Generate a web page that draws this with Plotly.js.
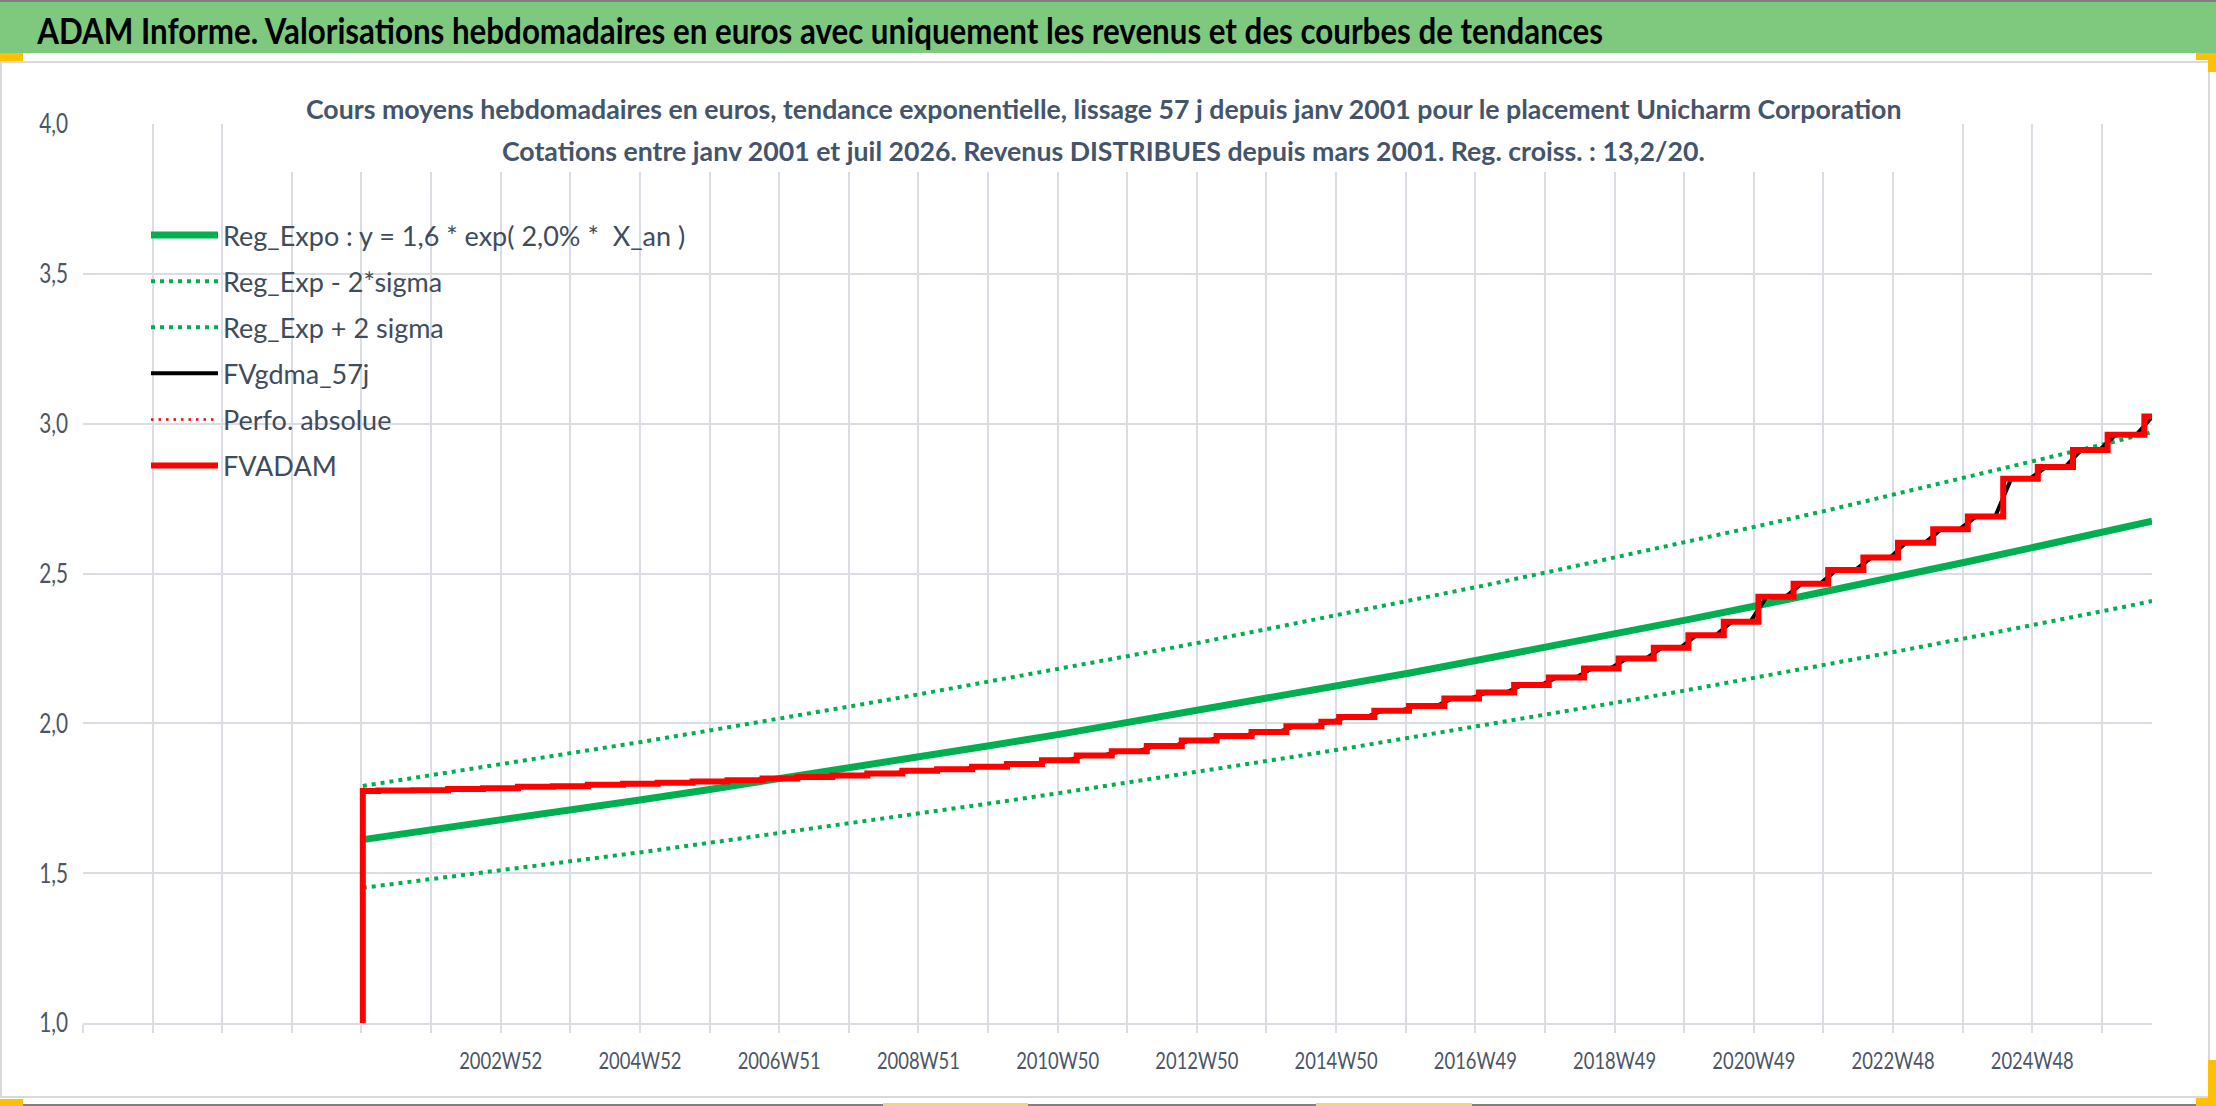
<!DOCTYPE html>
<html>
<head>
<meta charset="utf-8">
<script src="https://cdn.plot.ly/plotly-3.0.1.min.js"></script>
<style>
  body { margin: 0; background: #ffffff; overflow: hidden; }
  #chart { width: 2216px; height: 1106px; }
</style>
</head>
<body>
<div id="chart"></div>
<script>
// Tendance exponentielle et bandes +/- 2 sigma
const trendDates = ['2001-01-05', '2002-01-01', '2003-01-01', '2004-01-01', '2005-01-01', '2006-01-01',
    '2007-01-01', '2008-01-01', '2009-01-01', '2010-01-01', '2011-01-01', '2012-01-01', '2013-01-01',
    '2014-01-01', '2015-01-01', '2016-01-01', '2017-01-01', '2018-01-01', '2019-01-01', '2020-01-01',
    '2021-01-01', '2022-01-01', '2023-01-01', '2024-01-01', '2025-01-01', '2026-01-01', '2026-08-17'];
const regExpo = [1.612, 1.644, 1.677, 1.711, 1.745, 1.780, 1.815, 1.851, 1.888, 1.926, 1.964, 2.004, 2.044,
    2.084, 2.126, 2.168, 2.212, 2.256, 2.301, 2.347, 2.394, 2.441, 2.490, 2.540, 2.591, 2.642, 2.675];
const regMinus = [1.451, 1.480, 1.509, 1.539, 1.570, 1.602, 1.634, 1.666, 1.699, 1.733, 1.768, 1.803, 1.839,
    1.876, 1.913, 1.952, 1.991, 2.030, 2.071, 2.112, 2.154, 2.197, 2.241, 2.286, 2.331, 2.378, 2.408];
const regPlus = [1.791, 1.827, 1.863, 1.900, 1.938, 1.977, 2.016, 2.057, 2.098, 2.140, 2.182, 2.226, 2.270,
    2.316, 2.362, 2.409, 2.457, 2.506, 2.556, 2.607, 2.659, 2.712, 2.767, 2.822, 2.878, 2.935, 2.972];

// FVADAM : valeur apres chaque versement de revenus (escalier)
const fvDates = ['2001-01-05', '2001-01-05', '2001-03-27', '2001-09-26', '2002-03-27', '2002-09-26',
    '2003-03-27', '2003-09-26', '2004-03-27', '2004-09-26', '2005-03-27', '2005-09-26', '2006-03-27',
    '2006-09-26', '2007-03-27', '2007-09-26', '2008-03-27', '2008-09-26', '2009-03-27', '2009-09-26',
    '2010-03-27', '2010-09-26', '2011-03-27', '2011-09-26', '2012-03-27', '2012-09-26', '2013-03-27',
    '2013-09-26', '2014-03-27', '2014-09-26', '2014-12-28', '2015-06-30', '2015-12-28', '2016-06-30',
    '2016-12-28', '2017-06-30', '2017-12-28', '2018-06-30', '2018-12-28', '2019-06-30', '2019-12-28',
    '2020-06-30', '2020-12-28', '2021-06-30', '2021-12-28', '2022-06-30', '2022-12-28', '2023-06-30',
    '2023-12-28', '2024-06-30', '2024-12-28', '2025-06-30', '2025-12-28', '2026-07-08', '2026-08-17'];
const fvadam = [1.000, 1.774, 1.776, 1.777, 1.781, 1.783, 1.788, 1.790, 1.795, 1.798, 1.802, 1.806, 1.810,
    1.816, 1.821, 1.826, 1.833, 1.842, 1.847, 1.855, 1.864, 1.877, 1.893, 1.907, 1.924, 1.943, 1.958,
    1.971, 1.990, 2.005, 2.021, 2.042, 2.058, 2.083, 2.103, 2.128, 2.153, 2.183, 2.216, 2.252, 2.294,
    2.339, 2.422, 2.466, 2.512, 2.553, 2.603, 2.648, 2.690, 2.816, 2.855, 2.912, 2.963, 3.024, 3.024];

// Etiquettes de l'axe des x (une graduation toutes les 52 semaines)
const xTickLabels = ['', '', '', '', '', '', '2002W52', '', '2004W52', '', '2006W51', '', '2008W51', '',
    '2010W50', '', '2012W50', '', '2014W50', '', '2016W49', '', '2018W49', '', '2020W49', '', '2022W48',
    '', '2024W48', ''];
const firstTick = '1997-01-03';
const lastDay = '2026-08-17';

const W = 2216, H = 1106;
const M = { l: 83, r: 64, t: 124, b: 83 };
const pw = W - M.l - M.r, ph = H - M.t - M.b;
const px = x => (x - M.l) / pw;
const py = y => (H - M.b - y) / ph;

function addDays(s, n) {
    const d = new Date(s + 'T00:00:00Z');
    d.setUTCDate(d.getUTCDate() + n);
    return d.toISOString().slice(0, 10);
}

const tickVals = xTickLabels.map((t, k) => addDays(firstTick, 364 * k));

// lissage : rampe autour de chaque marche
const gdmaX = [fvDates[1]], gdmaY = [fvadam[1]];
for (let i = 2; i < fvDates.length - 1; i++) {
    gdmaX.push(addDays(fvDates[i], -42)); gdmaY.push(fvadam[i - 1]);
    gdmaX.push(addDays(fvDates[i], 42)); gdmaY.push(fvadam[i]);
}
gdmaX.push(lastDay); gdmaY.push(fvadam[fvadam.length - 1]);

const FONT = 'Lato, "Open Sans", sans-serif';
const GREEN = '#00b050', GRID = '#dadee4';

const traces = [
    { x: trendDates, y: regExpo, name: 'Reg_Expo : y = 1,6 * exp( 2,0% *\u00a0\u00a0X_an )', legendgroup: 'a',
      mode: 'lines', line: { color: GREEN, width: 7 } },
    { x: trendDates, y: regMinus, name: 'Reg_Exp - 2*sigma', legendgroup: 'b',
      mode: 'lines', line: { color: GREEN, width: 4, dash: '4px,5px' } },
    { x: trendDates, y: regPlus, name: 'Reg_Exp + 2 sigma', legendgroup: 'c',
      mode: 'lines', line: { color: GREEN, width: 4, dash: '4px,5px' } },
    { x: gdmaX, y: gdmaY, name: 'FVgdma_57j', legendgroup: 'd',
      mode: 'lines', line: { color: '#000000', width: 4 } },
    { x: fvDates, y: fvadam, name: 'Perfo. absolue', legendgroup: 'e',
      mode: 'lines', line: { color: '#ff0000', width: 2.5, dash: '2.5px,5px', shape: 'hv' } },
    { x: fvDates, y: fvadam, name: 'FVADAM', legendgroup: 'f',
      mode: 'lines', line: { color: '#ff0000', width: 6, shape: 'hv' } }
];

function rect(x0, y0, x1, y1, color) {
    return { type: 'rect', xref: 'paper', yref: 'paper', layer: 'above',
        x0: px(x0), x1: px(x1), y0: py(y1), y1: py(y0),
        fillcolor: color, line: { width: 0 } };
}

const shapes = [
    rect(0, 0, W, 2, '#7f7f7f'),
    rect(0, 2, W, 53, '#7fc97f'),
    rect(290, 64, 1917, 172, '#ffffff'),
    { type: 'rect', xref: 'paper', yref: 'paper', layer: 'above',
      x0: px(1), x1: px(2209), y0: py(1097), y1: py(62), line: { color: '#d9d9d9', width: 2 } },
    rect(0, 1104, W, H, '#7f7f7f'),
    rect(0, 53, 23, 61, '#ffc000'),
    rect(2196, 53, W, 60, '#ffc000'),
    rect(2208, 53, W, 72, '#ffc000'),
    rect(0, 1099, 23, H, '#ffc000'),
    rect(2208, 1060, W, H, '#ffc000'),
    rect(2196, 1098, W, H, '#ffc000'),
    rect(883, 1103, 1028, H, '#e6dd6a'),
    rect(1316, 1103, 1472, H, '#e6dd6a')
];

const annotations = [
    { text: 'ADAM Informe. Valorisations hebdomadaires en euros avec uniquement les revenus et des courbes de tendances',
      xref: 'paper', yref: 'paper', x: px(819), y: py(30), xanchor: 'center', yanchor: 'middle', showarrow: false,
      font: { family: FONT, size: 36, color: '#000000', weight: 'bold' } },
    { text: 'Cours moyens hebdomadaires en euros, tendance exponentielle, lissage 57 j depuis janv 2001 pour le placement Unicharm Corporation',
      xref: 'paper', yref: 'paper', x: px(1103), y: py(109), xanchor: 'center', yanchor: 'middle', showarrow: false,
      font: { family: FONT, size: 26.7, color: '#44546a', weight: 'bold' } },
    { text: 'Cotations entre janv 2001 et juil 2026. Revenus DISTRIBUES depuis mars 2001. Reg. croiss. : 13,2/20.',
      xref: 'paper', yref: 'paper', x: px(1103), y: py(151), xanchor: 'center', yanchor: 'middle', showarrow: false,
      font: { family: FONT, size: 26.7, color: '#44546a', weight: 'bold' } }
];

const layout = {
    width: W, height: H,
    margin: M,
    paper_bgcolor: '#ffffff', plot_bgcolor: '#ffffff',
    separators: ', ',
    font: { family: FONT, color: '#4b5566' },
    showlegend: true,
    legend: {
        x: px(146), y: py(211), xanchor: 'left', yanchor: 'top',
        bgcolor: 'rgba(0,0,0,0)', borderwidth: 0,
        font: { family: FONT, size: 27, color: '#404b5c' },
        itemwidth: 67, tracegroupgap: 8, traceorder: 'grouped'
    },
    xaxis: {
        type: 'date', range: [firstTick, lastDay],
        tickmode: 'array', tickvals: tickVals, ticktext: xTickLabels, tickangle: 0,
        showgrid: true, gridcolor: GRID, gridwidth: 2,
        ticks: 'outside', ticklen: 8, tickwidth: 2, tickcolor: GRID,
        showline: true, linecolor: GRID, linewidth: 2, zeroline: false,
        tickfont: { family: FONT, size: 23, color: '#4b5566' },
        ticklabelstandoff: 8
    },
    yaxis: {
        range: [1, 4], tick0: 1, dtick: 0.5, tickformat: '.1f',
        showgrid: true, gridcolor: GRID, gridwidth: 2,
        showline: false, zeroline: false, ticks: '',
        tickfont: { family: FONT, size: 27, color: '#4b5566' },
        ticklabelstandoff: 14
    },
    shapes: shapes,
    annotations: annotations
};

// texte plus etroit (police condensee du modele), mise a l'echelle autour du point d'ancrage
function narrow(nodes, sx) {
    nodes.forEach(t => {
        const x = parseFloat(t.getAttribute('x')) || 0;
        const tr = t.getAttribute('transform') || '';
        t.setAttribute('transform', `${tr} translate(${x},0) scale(${sx},1) translate(${-x},0)`);
    });
}

Plotly.newPlot('chart', traces, layout, { displayModeBar: false }).then(gd => {
    narrow([gd.querySelectorAll('.annotation-text')[0]], 0.87);
    narrow(gd.querySelectorAll('.xtick text'), 0.8);
    narrow(gd.querySelectorAll('.ytick text'), 0.77);
});
</script>
</body>
</html>
